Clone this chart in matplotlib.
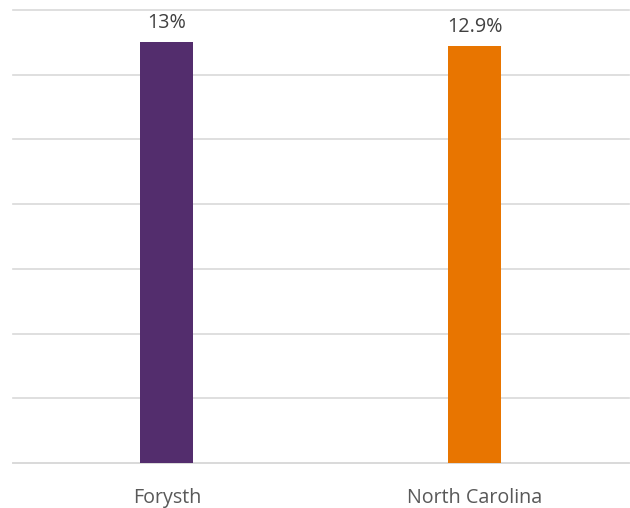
#!/usr/bin/env python3
"""
Bar chart: share by area, Forysth vs North Carolina.
"""

import matplotlib
matplotlib.use("Agg")
import matplotlib.pyplot as plt

# ============================================================
# DATA
# ============================================================

areas = ["Forysth", "North Carolina"]
values = [13.0, 12.9]
value_labels = ["13%", "12.9%"]
bar_colors = ["#532D6D", "#E87500"]

# ============================================================
# PLOT
# ============================================================

plt.rcParams["font.family"] = ["Open Sans", "DejaVu Sans"]

fig = plt.figure(figsize=(6.30, 5.08), dpi=100)
ax = fig.add_axes([0.0206, 0.0886, 0.9774, 0.8917])

x = range(len(areas))

ax.bar(
    x,
    values,
    width=0.172,
    color=bar_colors,
    zorder=3
)

for xi, v, lab in zip(x, values, value_labels):
    ax.annotate(
        lab,
        xy=(xi, v),
        xytext=(0, 10),
        textcoords="offset points",
        ha="center",
        va="baseline",
        fontsize=14.2,
        color="#404040"
    )

ax.set_xlim(-0.5, 1.5)
ax.set_ylim(0, 14)
ax.set_yticks(range(0, 15, 2))
ax.yaxis.grid(True, color="#D9D9D9", linewidth=1.2, zorder=0)
for gl in ax.yaxis.get_gridlines():
    gl.set_clip_on(False)
ax.tick_params(axis="y", left=False, labelleft=False)

ax.set_xticks(list(x))
ax.set_xticklabels(areas, fontsize=14.2, color="#595959")
ax.tick_params(axis="x", length=0, pad=18)

for side in ["top", "right", "left"]:
    ax.spines[side].set_visible(False)
ax.spines["bottom"].set_color("#D9D9D9")
ax.spines["bottom"].set_linewidth(1.2)

fig.savefig("out.png", dpi=100)
plt.close(fig)
